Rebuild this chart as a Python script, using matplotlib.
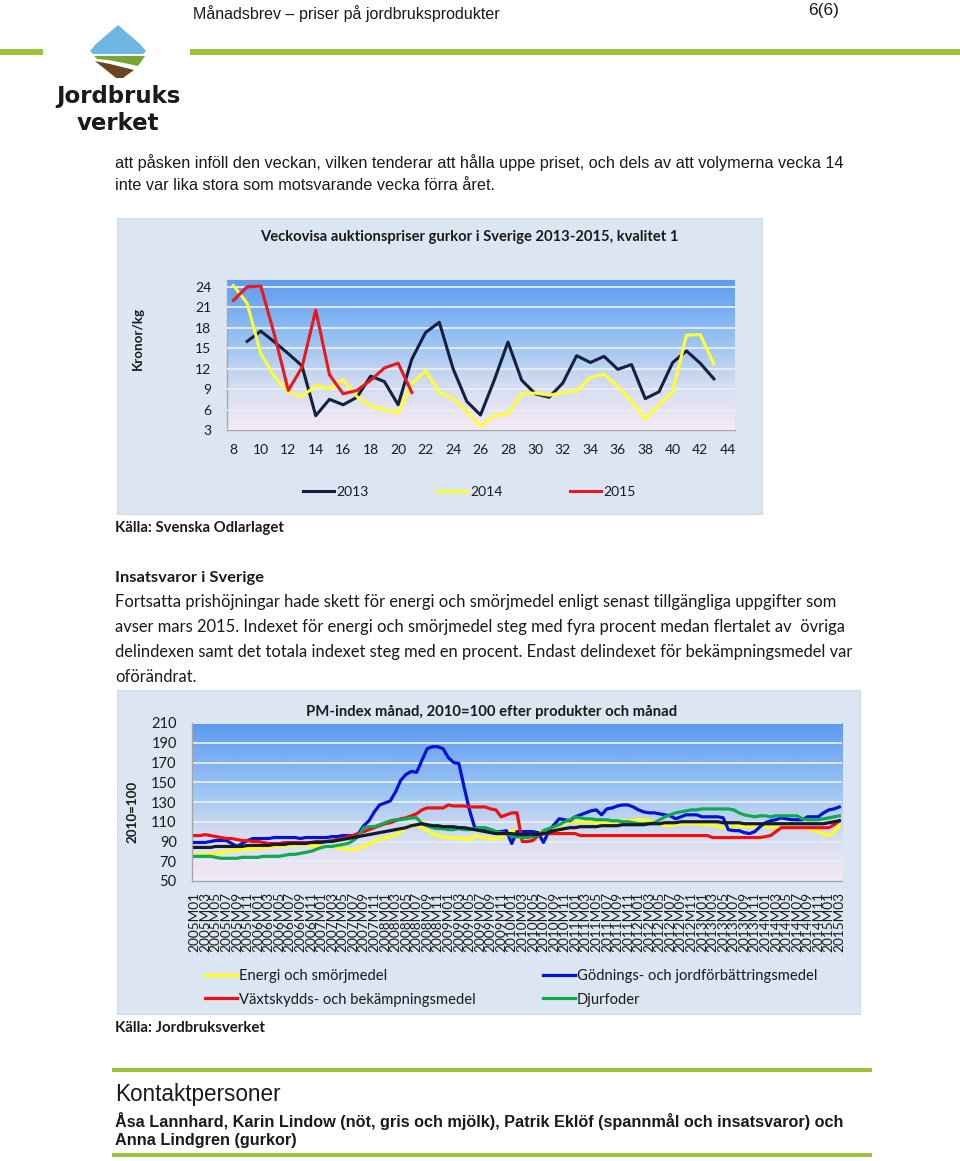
import numpy as np
import matplotlib
matplotlib.use('Agg')
import matplotlib.pyplot as plt
from matplotlib.patches import Rectangle, Polygon
from matplotlib.colors import LinearSegmentedColormap
from matplotlib import font_manager as fm

# ---------------- data: chart 1 (weekly cucumber prices, SEK/kg) ----------------
weeks_2013 = list(range(9, 44))
price_2013 = [16.0, 17.5, 15.9, 14.2, 12.4, 5.1, 7.5, 6.7, 7.8, 10.9, 10.1, 6.7, 13.4, 17.3,
              18.8, 12.0, 7.2, 5.2, 10.3, 15.9, 10.3, 8.3, 7.8, 9.9, 13.9, 12.9, 13.8, 11.9,
              12.6, 7.6, 8.6, 12.9, 14.6, 12.8, 10.5]
weeks_2014 = list(range(8, 44))
price_2014 = [24.2, 21.6, 14.2, 10.8, 8.6, 7.9, 9.5, 9.1, 10.4, 7.9, 6.5, 6.0, 5.5, 9.8,
              11.7, 8.5, 7.6, 5.7, 3.6, 5.1, 5.35, 8.4, 8.4, 8.1, 8.5, 8.7, 10.7, 11.2,
              9.35, 7.25, 4.6, 6.7, 8.6, 16.9, 17.0, 12.7]
weeks_2015 = list(range(8, 22))
price_2015 = [22.0, 24.0, 24.1, 16.9, 8.8, 12.2, 20.6, 11.1, 8.3, 8.8, 10.3, 12.1, 12.8, 8.5]
week_ticks = list(range(8, 45, 2))
price_ticks = list(range(3, 25, 3))

# ---------------- data: chart 2 (PM-index, 2010=100) ----------------
months = [f"{y}M{m:02d}" for y in range(2005, 2016) for m in range(1, 13)][:123]
energi = [76, 77, 77, 77, 78, 79, 80, 81, 81, 82, 82, 83,
          83, 84, 84, 85, 85, 86, 86, 86, 87, 87, 86, 85,
          85, 85, 85, 84, 83, 82, 82, 83, 85, 88, 90, 92,
          94, 95, 97, 100, 104, 107, 107, 104, 101, 98, 96, 95,
          94, 94, 93, 93, 92, 96, 95, 94, 93, 93, 94, 97,
          101, 101, 100, 100, 100, 100, 100, 101, 104, 106, 108, 110,
          110, 110, 110, 110, 109, 108, 108, 108, 110, 111, 111, 111,
          112, 112, 111, 110, 108, 106, 106, 107, 108, 108, 108, 108,
          107, 107, 107, 105, 104, 105, 105, 106, 105, 105, 105, 105,
          105, 105, 104, 104, 105, 105, 105, 104, 103, 102, 100, 98,
          96, 100, 106]
godning = [89, 89, 89, 90, 91, 91, 91, 88, 85, 88, 91, 93,
           93, 93, 93, 94, 94, 94, 94, 94, 93, 94, 94, 94,
           94, 94, 95, 95, 96, 96, 96, 98, 106, 111, 120, 127,
           129, 131, 140, 152, 158, 161, 160, 172, 184, 186, 186, 184,
           175, 170, 169, 145, 122, 104, 103, 103, 102, 100, 100, 101,
           88, 100, 100, 100, 100, 99, 89, 100, 107, 113, 112, 111,
           115, 117, 119, 121, 122, 117, 123, 124, 126, 127, 127, 125,
           122, 120, 119, 119, 118, 117, 116, 113, 115, 117, 117, 117,
           115, 115, 115, 115, 114, 102, 101, 101, 99, 98, 100, 105,
           109, 111, 112, 114, 113, 112, 112, 112, 115, 115, 115, 119,
           122, 123, 125]
vaxtskydd = [96, 96, 97, 96, 95, 94, 93, 93, 92, 91, 91, 90,
             90, 89, 88, 88, 88, 89, 89, 89, 89, 89, 89, 90,
             90, 90, 91, 92, 93, 95, 96, 98, 100, 102, 104, 106,
             108, 109, 111, 113, 114, 116, 118, 122, 124, 124, 124, 124,
             127, 126, 126, 126, 125, 125, 125, 125, 123, 122, 115, 117,
             119, 119, 90, 90, 91, 96, 98, 98, 98, 98, 98, 98,
             98, 96, 96, 96, 96, 96, 96, 96, 96, 96, 96, 96,
             96, 96, 96, 96, 96, 96, 96, 96, 96, 96, 96, 96,
             96, 96, 94, 94, 94, 94, 94, 94, 94, 94, 94, 94,
             95, 96, 100, 104, 104, 104, 104, 104, 104, 104, 104, 104,
             104, 107, 111]
djurfoder = [75, 75, 75, 75, 74, 73, 73, 73, 73, 74, 74, 74,
             74, 75, 75, 75, 75, 76, 77, 77, 78, 79, 80, 82,
             84, 85, 85, 86, 87, 88, 91, 95, 104, 105, 105, 107,
             109, 111, 112, 112, 113, 114, 114, 108, 106, 104, 103, 103,
             102, 102, 103, 102, 102, 103, 104, 104, 102, 100, 99, 98,
             95, 95, 94, 94, 95, 96, 101, 103, 105, 107, 110, 112,
             115, 114, 113, 113, 112, 112, 112, 111, 111, 110, 110, 109,
             108, 108, 108, 109, 112, 115, 117, 119, 120, 121, 122, 122,
             123, 123, 123, 123, 123, 123, 122, 119, 117, 116, 115, 116,
             116, 115, 116, 116, 116, 116, 116, 113, 112, 112, 112, 113,
             114, 115, 116]
totalt = [84, 84, 84, 84, 85, 85, 85, 85, 85, 85, 86, 86,
          86, 86, 86, 87, 87, 87, 88, 88, 88, 88, 89, 89,
          89, 90, 90, 91, 92, 93, 94, 95, 96, 97, 98, 99,
          100, 101, 102, 103, 104, 106, 107, 108, 107, 106, 106, 105,
          105, 105, 104, 104, 103, 102, 101, 100, 99, 98, 98, 98,
          98, 97, 97, 97, 97, 97, 98, 99, 101, 102, 103, 104,
          104, 105, 105, 105, 105, 106, 106, 106, 106, 107, 107, 107,
          107, 107, 108, 108, 108, 109, 109, 109, 110, 110, 110, 110,
          110, 110, 110, 110, 109, 109, 109, 109, 108, 108, 108, 108,
          108, 108, 108, 108, 108, 108, 108, 108, 108, 108, 108, 108,
          109, 110, 111]
index_ticks = list(range(50, 211, 20))

# ---------------- fonts ----------------
avail = {f.name for f in fm.fontManager.ttflist}
def fam(*names):
    out = [n for n in names if n in avail]
    return out + ['DejaVu Sans']
NARROW = fam('Liberation Sans Narrow', 'Liberation Sans')
ARIAL = fam('Liberation Sans')
CAL = fam('Lato', 'Open Sans')

W, H = 960, 1161
fig = plt.figure(figsize=(W / 100, H / 100), dpi=100)
fig.patch.set_facecolor('white')
renderer = fig.canvas.get_renderer()

ov = fig.add_axes([0, 0, 1, 1])
ov.set_xlim(0, W)
ov.set_ylim(H, 0)
ov.axis('off')

GREEN = '#9DC33B'
INK = '#1A1A1A'

def ftext(x, y, s, w=None, size=11, ha='left', va='center', rot=0, **kw):
    t = fig.text(x / W, 1 - y / H, s, fontsize=size, ha=ha, va=va, rotation=rot, color=INK, **kw)
    if w is not None:
        bb = t.get_window_extent(renderer=renderer)
        cur = bb.height if rot in (90, 270) else bb.width
        t.set_fontsize(size * w / cur)
    return t

# ---------------- page decoration ----------------
ov.add_patch(Rectangle((0, 49), 43, 6, color=GREEN, lw=0))
ov.add_patch(Rectangle((190, 49), 770, 6, color=GREEN, lw=0))
ov.add_patch(Rectangle((112, 1068), 760, 4, color=GREEN, lw=0))
ov.add_patch(Rectangle((112, 1153), 760, 4, color=GREEN, lw=0))

# logo
ov.add_patch(Polygon([(118, 25), (140, 44), (146, 51), (143, 54), (93, 54), (90, 51), (96, 44)],
                     closed=True, fc='#6DB6E3', ec='none'))
ov.add_patch(Polygon([(94, 56), (145, 56), (138, 66), (124, 63), (108, 60), (97, 59)],
                     closed=True, fc='#74A832', ec='none'))
ov.add_patch(Polygon([(95, 61), (110, 64), (126, 68), (134, 70), (123, 78), (116, 78)],
                     closed=True, fc='#6B4420', ec='none'))
ftext(118, 97, 'Jordbruks', size=16.5, ha='center', family=['DejaVu Sans'], weight='bold')
ftext(118, 124, 'verket', size=16.5, ha='center', family=['DejaVu Sans'], weight='bold')

# header
ftext(193, 14, 'Månadsbrev – priser på jordbruksprodukter', w=307, size=12, family=NARROW)
ftext(808, 11, '6(6)', w=31, size=12, family=NARROW)

# first paragraph
t0 = ftext(115, 163, 'att påsken inföll den veckan, vilken tenderar att hålla uppe priset, och dels av att volymerna vecka 14',
           w=726, size=12, family=NARROW)
ftext(115, 186, 'inte var lika stora som motsvarande vecka förra året.', size=t0.get_fontsize(), family=NARROW)

# chart boxes
BOX = '#DCE6F2'
ov.add_patch(Rectangle((117, 218), 645, 296, fc=BOX, ec='#D0DBEA', lw=0.8))
ov.add_patch(Rectangle((117, 690), 743, 324, fc=BOX, ec='#D0DBEA', lw=0.8))

ftext(115, 528, 'Källa: Svenska Odlarlaget', w=168, size=11, family=CAL, weight='bold')
ftext(115, 578, 'Insatsvaror i Sverige', w=148, size=11, family=CAL, weight='bold')
para = ['Fortsatta prishöjningar hade skett för energi och smörjmedel enligt senast tillgängliga uppgifter som',
        'avser mars 2015. Indexet för energi och smörjmedel steg med fyra procent medan flertalet av  övriga',
        'delindexen samt det totala indexet steg med en procent. Endast delindexet för bekämpningsmedel var',
        'oförändrat.']
p0 = ftext(115, 602, para[0], w=721, size=11, family=CAL)
for k, s in enumerate(para[1:], start=1):
    ftext(115, 602 + 25 * k, s, size=p0.get_fontsize(), family=CAL)
ftext(115, 1028, 'Källa: Jordbruksverket', w=149, size=11, family=CAL, weight='bold')
ftext(115, 1095, 'Kontaktpersoner', w=166, size=15, family=NARROW)
n0 = ftext(115, 1121, 'Åsa Lannhard, Karin Lindow (nöt, gris och mjölk), Patrik Eklöf (spannmål och insatsvaror) och',
           w=723, size=12, family=NARROW, weight='bold')
ftext(115, 1140, 'Anna Lindgren (gurkor)', size=n0.get_fontsize(), family=NARROW, weight='bold')

# gradient colormap for plot areas
cmap = LinearSegmentedColormap.from_list('bg', [(0.0, '#F6EAF6'), (0.3, '#D3DCF0'),
                                               (0.6, '#98C2F3'), (0.85, '#72A9F3'), (1.0, '#5E9AEE')])
grad = np.linspace(0, 1, 256).reshape(-1, 1)

def add_axes_px(l, t, r, b):
    return fig.add_axes([l / W, 1 - b / H, (r - l) / W, (b - t) / H])

# ---------------- chart 1 ----------------
ax1 = add_axes_px(226.5, 280, 734.5, 430)
ax1.set_xlim(7.5, 44.5)
ax1.set_ylim(3, 25)
ax1.imshow(grad, extent=[7.5, 44.5, 3, 25], origin='lower', aspect='auto', cmap=cmap, zorder=0)
ax1.set_yticks(price_ticks)
ax1.set_xticks(week_ticks)
ax1.yaxis.grid(True, color='#E6EEF9', lw=1.3, zorder=1)
ax1.set_axisbelow(False)
for sp in ['top', 'right']:
    ax1.spines[sp].set_visible(False)
for sp in ['left', 'bottom']:
    ax1.spines[sp].set_color('#A5A5A5')
    ax1.spines[sp].set_linewidth(1.0)
ax1.tick_params(length=0, labelsize=10, colors=INK)
ax1.tick_params(axis='y', pad=11)
ax1.tick_params(axis='x', pad=10)
for lab in ax1.get_xticklabels() + ax1.get_yticklabels():
    lab.set_family(CAL)
l13, = ax1.plot(weeks_2013, price_2013, color='#14203C', lw=2.2, zorder=3, label='2013')
l14, = ax1.plot(weeks_2014, price_2014, color='#FFFF33', lw=2.2, zorder=3, label='2014')
l15, = ax1.plot(weeks_2015, price_2015, color='#E8191D', lw=2.2, zorder=3, label='2015')
ftext(469, 237, 'Veckovisa auktionspriser gurkor i Sverige 2013-2015, kvalitet 1', w=418, size=11,
      family=CAL, ha='center', weight='bold')
ftext(138, 338, 'Kronor/kg', w=62, size=11, family=CAL, ha='center', rot=90, weight='bold')
leg1 = fig.legend(handles=[l13, l14, l15], loc='center left', bbox_to_anchor=(303 / W, 1 - 492 / H),
                  ncol=3, frameon=False, handlelength=2.2, handletextpad=0.2, columnspacing=4.9,
                  borderpad=0, borderaxespad=0, prop={'family': CAL, 'size': 10})
for t in leg1.get_texts():
    t.set_color(INK)

# ---------------- chart 2 ----------------
ax2 = add_axes_px(192, 723, 842, 881)
ax2.set_xlim(-0.5, 122.5)
ax2.set_ylim(50, 210)
ax2.imshow(grad, extent=[-0.5, 122.5, 50, 210], origin='lower', aspect='auto', cmap=cmap, zorder=0)
ax2.set_yticks(index_ticks)
ax2.yaxis.grid(True, color='#E6EEF9', lw=1.3, zorder=1)
x = np.arange(len(months))
ax2.set_xticks(x[::2])
ax2.set_xticklabels(months[::2], rotation=90)
for sp in ['top', 'right']:
    ax2.spines[sp].set_visible(False)
for sp in ['left', 'bottom']:
    ax2.spines[sp].set_color('#A5A5A5')
    ax2.spines[sp].set_linewidth(1.0)
ax2.tick_params(length=0, colors=INK)
ax2.tick_params(axis='y', pad=11, labelsize=10.5)
ax2.tick_params(axis='x', pad=8, labelsize=9.8)
for lab in ax2.get_xticklabels() + ax2.get_yticklabels():
    lab.set_family(CAL)
le, = ax2.plot(x, energi, color='#FFFF1A', lw=2.3, zorder=3, label='Energi och smörjmedel')
lg, = ax2.plot(x, godning, color='#0012D6', lw=2.3, zorder=3, label='Gödnings- och jordförbättringsmedel')
lv, = ax2.plot(x, vaxtskydd, color='#F01010', lw=2.3, zorder=3, label='Växtskydds- och bekämpningsmedel')
ld, = ax2.plot(x, djurfoder, color='#10A850', lw=2.3, zorder=3, label='Djurfoder')
ax2.plot(x, totalt, color='#151B2E', lw=2.3, zorder=3)
ftext(492, 712, 'PM-index månad, 2010=100 efter produkter och månad', w=372, size=11, family=CAL,
      ha='center', weight='bold')
ftext(133, 812, '2010=100', w=62, size=11, family=CAL, ha='center', rot=90, weight='bold')

legs = []
for hs, x0 in (([le, lv], 205), ([lg, ld], 543)):
    lg_ = fig.legend(handles=hs, loc='center left', bbox_to_anchor=(x0 / W, 1 - 988 / H),
                     ncol=1, frameon=False, handlelength=2.2, handletextpad=0.1, labelspacing=0.62,
                     borderpad=0, borderaxespad=0, prop={'family': CAL, 'size': 10.6})
    for t in lg_.get_texts():
        t.set_color(INK)
    legs.append(lg_)

fig.savefig('out.png', dpi=100, facecolor='white')
